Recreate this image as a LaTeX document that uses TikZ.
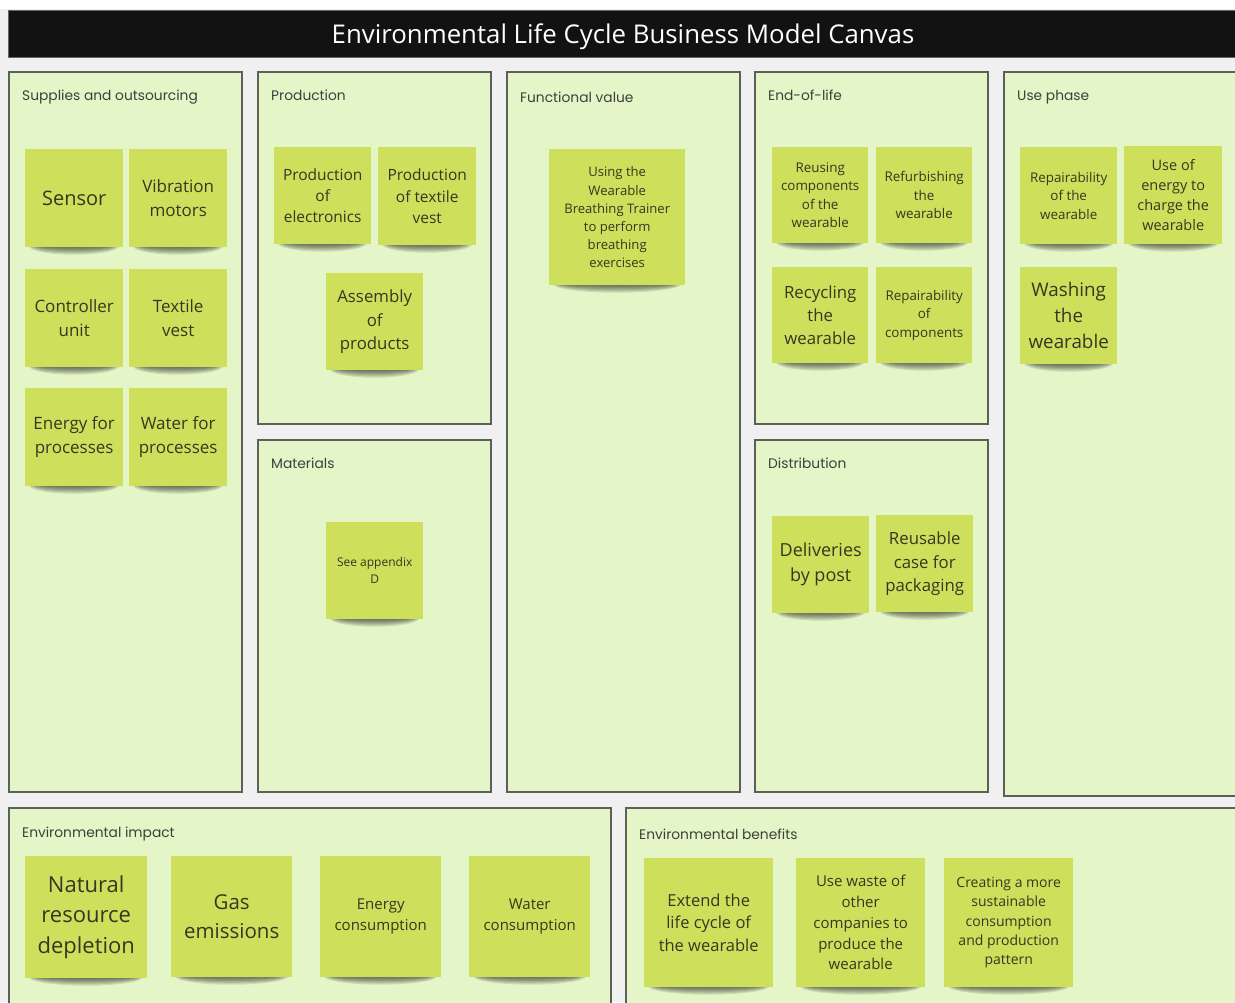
\documentclass[tikz,border=0pt]{standalone}
\usepackage{fontspec}
\setmainfont{Open Sans}
\newfontfamily\headfont{Poppins}

\definecolor{canvasbg}{RGB}{240,240,240}
\definecolor{panelfill}{RGB}{228,245,199}
\definecolor{panelline}{RGB}{92,96,86}
\definecolor{headtext}{RGB}{62,64,60}
\definecolor{notefill}{RGB}{206,223,92}
\definecolor{notetext}{RGB}{52,56,34}

\tikzset{
  panel/.style={fill=panelfill, draw=panelline, line width=1.1pt},
  paneltitle/.style={anchor=west, inner sep=0pt, text=headtext,
    font=\headfont\fontsize{13.8}{16}\selectfont},
  stickynote/.style={fill=notefill, inner sep=0pt, align=center,
    text=notetext, anchor=north west},
  banner/.style={text=white, inner sep=0pt, font=\fontsize{25.8}{30}\selectfont},
}

% sticky note with a soft shadow under its lower edge
% #1 name, #2 left, #3 top, #4 side, #5 font size, #6 text
\newcommand\sticky[6]{%
  \foreach \k in {0,...,6}{%
    \fill[black, opacity=0.1] ({#2+#4/2},{#3+#4-1})
      ellipse [x radius={#4/2-14+\k*1.7}, y radius={1.5+\k*1.2}];
  }%
  \pgfmathsetmacro\notebls{#5*1.38}%
  \node[stickynote, minimum width=#4pt, minimum height=#4pt,
        font=\fontsize{#5}{\notebls}\selectfont] (#1) at (#2,#3) {#6};
}

\begin{document}
\begin{tikzpicture}[x=1pt, y=-1pt]
\useasboundingbox (0,0) rectangle (1235,1002);
\clip (0,0) rectangle (1235,1002);
\fill[canvasbg] (0,0) rectangle (1235,1002);
\fill[white] (0,0) rectangle (1235,9);

% title bar
\fill[black!93, draw=black!60, line width=0.6pt] (8,10) rectangle (1245,57);
\node[banner] (title) at (623,37) {Environmental Life Cycle Business Model Canvas};

% panels
\draw[panel] (9,72) rectangle (242,792);
\draw[panel] (258,72) rectangle (491,424);
\draw[panel] (258,440) rectangle (491,792);
\draw[panel] (507,72) rectangle (740,792);
\draw[panel] (755,72) rectangle (988,424);
\draw[panel] (755,440) rectangle (988,792);
\draw[panel] (1004,72) rectangle (1245,796);
\draw[panel] (9,808) rectangle (611,1010);
\draw[panel] (626,808) rectangle (1245,1010);

% panel titles
\node[paneltitle] (hsupplies) at (22,97) {Supplies and outsourcing};
\node[paneltitle] (hproduction) at (271,95) {Production};
\node[paneltitle] (hfunctional) at (520,97) {Functional value};
\node[paneltitle] (hendoflife) at (768,95) {End-of-life};
\node[paneltitle] (husephase) at (1017,97) {Use phase};
\node[paneltitle] (hmaterials) at (271,463) {Materials};
\node[paneltitle] (hdistribution) at (768,463) {Distribution};
\node[paneltitle] (himpact) at (22,834) {Environmental impact};
\node[paneltitle] (hbenefits) at (639,834) {Environmental benefits};

% supplies and outsourcing
\sticky{sensor}{25}{149}{98}{20}{Sensor}
\sticky{vibration}{129}{149}{98}{17}{Vibration\\motors}
\sticky{controller}{25}{269}{98}{17}{Controller\\unit}
\sticky{textile}{129}{269}{98}{17}{Textile\\vest}
\sticky{energyproc}{25}{388}{98}{17}{Energy for\\processes}
\sticky{waterproc}{129}{388}{98}{17}{Water for\\processes}

% production
\sticky{prodelec}{274}{147}{97}{15.5}{Production\\of\\electronics}
\sticky{prodvest}{378}{147}{98}{15.5}{Production\\of textile\\vest}
\sticky{assembly}{326}{273}{97}{16.8}{Assembly\\of\\products}

% materials
\sticky{appendix}{326}{522}{97}{12}{See appendix\\D}

% functional value
\sticky{usage}{549}{149}{136}{13.1}{Using the\\Wearable\\Breathing Trainer\\to perform\\breathing\\exercises}

% end-of-life
\sticky{reusing}{772}{147}{96}{13.4}{Reusing\\components\\of the\\wearable}
\sticky{refurbishing}{876}{147}{96}{13.4}{Refurbishing\\the\\wearable}
\sticky{recycling}{772}{267}{96}{16.8}{Recycling\\the\\wearable}
\sticky{repaircomp}{876}{267}{96}{13.4}{Repairability\\of\\components}

% distribution
\sticky{deliveries}{772}{516}{97}{18}{Deliveries\\by post}
\sticky{reusecase}{876}{515}{97}{16.8}{Reusable\\case for\\packaging}

% use phase
\sticky{repairwear}{1020}{147}{97}{13.4}{Repairability\\of the\\wearable}
\sticky{charging}{1124}{146}{98}{14.5}{Use of\\energy to\\charge the\\wearable}
\sticky{washing}{1020}{267}{97}{18.8}{Washing\\the\\wearable}

% environmental impact
\sticky{depletion}{25}{856}{122}{22}{Natural\\resource\\depletion}
\sticky{emissions}{171}{856}{121}{20.5}{Gas\\emissions}
\sticky{energycons}{320}{856}{121}{15}{Energy\\consumption}
\sticky{watercons}{469}{856}{121}{15}{Water\\consumption}

% environmental benefits
\sticky{extend}{644}{858}{129}{16.5}{Extend the\\life cycle of\\the wearable}
\sticky{wasteuse}{796}{858}{129}{15}{Use waste of\\other\\companies to\\produce the\\wearable}
\sticky{sustain}{944}{858}{129}{14}{Creating a more\\sustainable\\consumption\\and production\\pattern}
\end{tikzpicture}
\end{document}
